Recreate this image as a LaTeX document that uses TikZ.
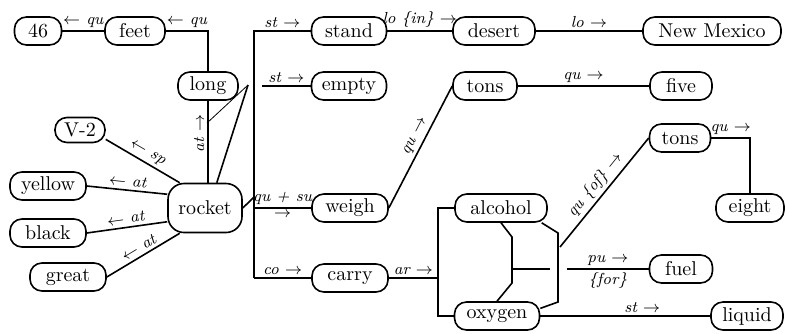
\documentclass[tikz,border=0pt]{standalone}
\usepackage{tikz}
\usepackage{xcolor}
\usetikzlibrary{arrows}

\begin{document}
\begin{tikzpicture}[x=0.5pt,y=-0.5pt]
\tikzset{concept/.style={draw,rounded corners=6pt,minimum height=14pt,inner sep=1pt,font=\normalsize}}
\tikzset{lab/.style={font=\footnotesize\itshape,inner sep=1.5pt}}
\tikzset{every path/.append style={line width=0.8pt}}

\useasboundingbox (0,0) rectangle (785,333);

% top row
\node[concept,minimum width=23.5pt] (n46) at (38,31) {46};
\node[concept,minimum width=30pt] (feet) at (135,31) {feet};
\node[concept,minimum width=37.5pt] (stand) at (349,31) {stand};
\node[concept,minimum width=41pt] (desert) at (494,31) {desert};
\node[concept,minimum width=69pt] (newmex) at (712,31) {New Mexico};

% second row
\node[concept,minimum width=30pt] (long) at (208,86) {long};
\node[concept,minimum width=37.5pt] (empty) at (349,86) {empty};
\node[concept,minimum width=32pt] (tonsa) at (485,86) {tons};
\node[concept,minimum width=31pt] (five) at (681,86) {five};

% middle
\node[concept,minimum width=25pt,minimum height=12.5pt] (vtwo) at (80,130) {V-2};
\node[concept,minimum width=30.5pt] (tonsb) at (680,138) {tons};
\node[concept,minimum width=38pt] (yellow) at (48,186) {yellow};
\node[concept,minimum width=37pt,minimum height=24.5pt,rounded corners=8pt] (rocket) at (205,208) {rocket};
\node[concept,minimum width=38pt] (weigh) at (350,208) {weigh};
\node[concept,minimum width=46pt] (alcohol) at (501,208) {alcohol};
\node[concept,minimum width=34pt] (eight) at (750,208) {eight};
\node[concept,minimum width=38pt] (black) at (48,233) {black};

% bottom
\node[concept,minimum width=31.5pt] (fuel) at (681,269) {fuel};
\node[concept,minimum width=38pt] (great) at (68,277) {great};
\node[concept,minimum width=38pt] (carry) at (350,278) {carry};
\node[concept,minimum width=42.5pt] (oxygen) at (497,316) {oxygen};
\node[concept,minimum width=36pt] (liquid) at (747,316) {liquid};

% junction points
\coordinate (jb) at (254,278);
\coordinate (rj) at (254,197);
\coordinate (es) at (262,86);
\coordinate (lk) at (248,85);
\coordinate (lka) at (207,123);
\coordinate (cj) at (438,278);
\coordinate (ob) at (560,247);
\coordinate (fs) at (567,269);

% left side of rocket
\draw (feet.west) -- node[lab,above] (lqa) {$\leftarrow$ qu} (n46.east);
\draw (long.north) |- node[lab,above,pos=0.75] (lqb) {$\leftarrow$ qu} (feet.east);
\draw (rocket.north -| long.south) -- node[lab,sloped,above,pos=0.6] (lat) {at $\rightarrow$} (long.south);
\draw (rocket.65) -- (lk);
\draw[line width=0.4pt] (lk) -- (lka);
\draw (rocket.135) -- node[lab,sloped,above] (lsp) {$\leftarrow$ sp} (vtwo.-20);
\draw (rocket.160) -- node[lab,sloped,above] (lya) {$\leftarrow$ at} (yellow.east);
\draw (rocket.200) -- node[lab,sloped,above] (lba) {$\leftarrow$ at} (black.east);
\draw (rocket.225) -- node[lab,sloped,above] (lga) {$\leftarrow$ at} (great.east);

% trunk
\draw (rocket.east) -- (rj);
\draw (jb) |- node[lab,above,pos=0.75] (lst) {st $\rightarrow$} (stand.west);
\draw (es) -- node[lab,above] (lse) {st $\rightarrow$} (empty.west);
\draw (weigh.west -| jb) -- node[lab,above] (lqs) {qu + su} node[lab,below] (lqr) {$\rightarrow$} (weigh.west);
\draw (jb) -- node[lab,above] (lco) {co $\rightarrow$} (carry.west);

% right part
\draw (stand.east) -- node[lab,above] (lin) {lo \{in\} $\rightarrow$} (desert.west);
\draw (desert.east) -- node[lab,above] (llo) {lo $\rightarrow$} (newmex.west);
\draw (weigh.east) -- node[lab,sloped,above,pos=0.55] (lqw) {qu $\rightarrow$} (tonsa.west);
\draw (tonsa.east) -- node[lab,above] (lqf) {qu $\rightarrow$} (five.west);
\draw (carry.east) -- node[lab,above] (lar) {ar $\rightarrow$} (cj);
\draw (alcohol.west) -| (cj) |- (oxygen.west);

% alcohol and oxygen
\draw (alcohol.south) -- (512,237) -- (512,283) -- (oxygen.north);
\draw (513,269) -- (550,269);
\draw (alcohol.-20) -- (558,233) -- (558,302) -- (oxygen.10);
\draw (ob) -- node[lab,sloped,above] (lof) {qu \{of\} $\rightarrow$} (tonsb.west);
\draw (fs) -- node[lab,above] (lpu) {pu $\rightarrow$} node[lab,below] (lfor) {\{for\}} (fuel.west);
\draw (tonsb.east) -| node[lab,above,pos=0.25] (lqe) {qu $\rightarrow$} (eight.north);
\draw (oxygen.east) -- node[lab,above,pos=0.6] (lsl) {st $\rightarrow$} (liquid.west);

\end{tikzpicture}
\end{document}
